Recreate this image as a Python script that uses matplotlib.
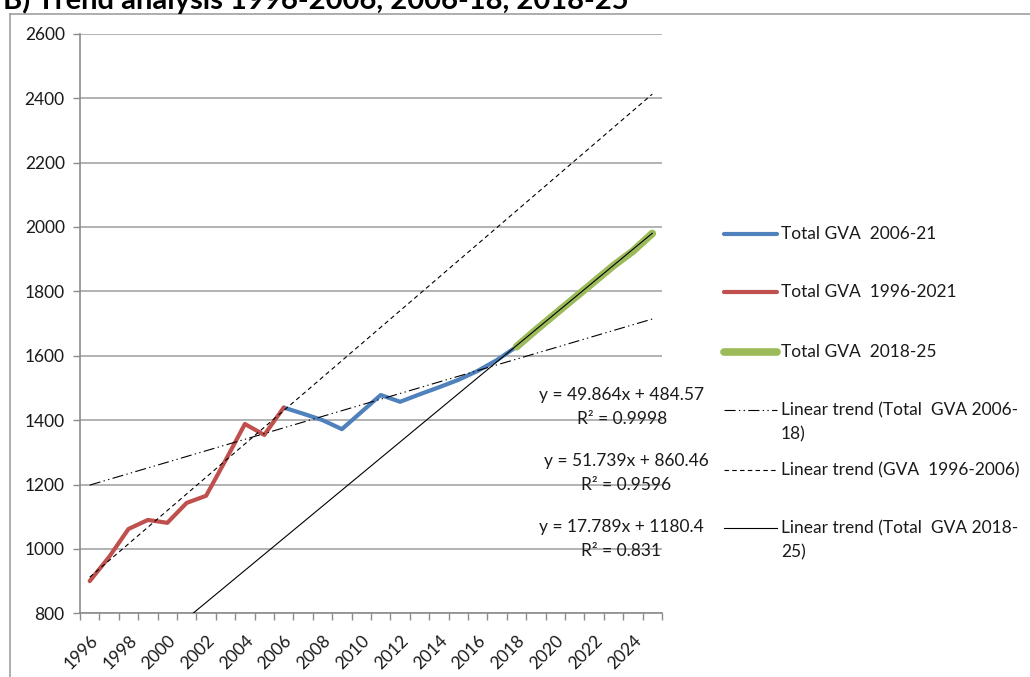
import matplotlib
matplotlib.use("Agg")
import matplotlib.pyplot as plt
from matplotlib.lines import Line2D
import numpy as np

plt.rcParams['font.family'] = ['Lato', 'DejaVu Sans']

# ---- data -------------------------------------------------------------
years = list(range(1996, 2026))

red_years = list(range(1996, 2007))
red_values = [900, 975, 1062, 1090, 1081, 1143, 1165, 1275, 1388, 1354, 1439]

blue_years = list(range(2006, 2019))
blue_values = [1439, 1420, 1400, 1372, 1425, 1478, 1457, 1480, 1502, 1525,
               1553, 1587, 1628]

green_years = list(range(2018, 2026))
green_values = [1628, 1680, 1730, 1780, 1830, 1880, 1925, 1980]

# linear trends (x = category index, 1 = 1996)
trend_2006_18 = (17.789, 1180.4)     # dash-dot
trend_1996_2006 = (51.739, 860.46)   # dashed
trend_2018_25 = (49.864, 484.57)     # solid

eq_labels = [("y = 49.864x + 484.57", "R² = 0.9998"),
             ("y = 51.739x + 860.46", "R² = 0.9596"),
             ("y = 17.789x + 1180.4", "R² = 0.831")]

y_ticks = list(range(800, 2601, 200))
title = "B) Trend analysis 1996-2006, 2006-18, 2018-25"

# ---- figure -----------------------------------------------------------
W, H = 1030, 677
fig = plt.figure(figsize=(W / 100, H / 100), dpi=100)


def fx(px):
    return px / W


def fy(py):
    return 1 - py / H


ax = fig.add_axes([fx(80), fy(613.3), fx(662) - fx(80), fy(33.8) - fy(613.3)])

idx = {yr: i + 1 for i, yr in enumerate(years)}
grid_c = '#a6a6a6'
axis_c = '#8c8c8c'
txt_c = '#1a1a1a'
fs = 12.5

ax.set_xlim(0.5, len(years) + 0.5)
ax.set_ylim(800, 2600)
ax.set_yticks(y_ticks)
ax.set_yticklabels([str(v) for v in y_ticks], fontsize=fs, color=txt_c)
ax.grid(axis='y', color=grid_c, linewidth=1.2, zorder=0)
ax.set_axisbelow(True)

label_years = [y for y in years if (y - 1996) % 2 == 0 and y < 2025]
ax.set_xticks([idx[y] for y in label_years])
ax.set_xticklabels([str(y) for y in label_years], rotation=45, ha='right',
                   rotation_mode='anchor', fontsize=fs, color=txt_c)
ax.set_xticks(np.arange(0.5, len(years) + 1.0, 1.0), minor=True)
ax.tick_params(axis='x', which='major', length=0, pad=14)
ax.tick_params(axis='x', which='minor', length=5, color=axis_c, width=1.0)
ax.tick_params(axis='y', length=5, color=axis_c, width=1.0, pad=6)

for s in ('top', 'right'):
    ax.spines[s].set_visible(False)
for s in ('left', 'bottom'):
    ax.spines[s].set_color(axis_c)
    ax.spines[s].set_linewidth(1.2)

# series
ax.plot([idx[y] for y in blue_years], blue_values, color='#4f81bd',
        linewidth=3.0, solid_capstyle='round', solid_joinstyle='round', zorder=3)
ax.plot([idx[y] for y in red_years], red_values, color='#c0504d',
        linewidth=3.0, solid_capstyle='round', solid_joinstyle='round', zorder=3)
ax.plot([idx[y] for y in green_years], green_values, color='#9bbb59',
        linewidth=5.5, solid_capstyle='round', solid_joinstyle='round', zorder=3)

# trend lines over the full category range
dashdot = (10, 3, 1.2, 3, 1.2, 3)
dashed = (4, 3)
xs = np.array([1, len(years)], dtype=float)
m, b = trend_2006_18
ax.plot(xs, m * xs + b, color='black', linewidth=0.8, dashes=dashdot, zorder=4)
m, b = trend_1996_2006
ax.plot(xs, m * xs + b, color='black', linewidth=0.8, dashes=dashed, zorder=4)
m, b = trend_2018_25
ax.plot(xs, m * xs + b, color='black', linewidth=0.8, zorder=4)

# trend equations
eq_pos = [(622, 395, 419), (626, 461, 485), (621, 527, 551)]
for (l1, l2), (px, py1, py2) in zip(eq_labels, eq_pos):
    fig.text(fx(px), fy(py1), l1, ha='center', va='center', fontsize=fs,
             color=txt_c)
    fig.text(fx(px), fy(py2), l2, ha='center', va='center', fontsize=fs,
             color=txt_c)

# legend
leg_items = [
    (234, dict(color='#4f81bd', linewidth=3.0, solid_capstyle='round'),
     ["Total GVA  2006-21"]),
    (292, dict(color='#c0504d', linewidth=3.0, solid_capstyle='round'),
     ["Total GVA  1996-2021"]),
    (352, dict(color='#9bbb59', linewidth=5.5, solid_capstyle='round'),
     ["Total GVA  2018-25"]),
    (410, dict(color='black', linewidth=0.8, dashes=dashdot),
     ["Linear trend (Total  GVA 2006-", "18)"]),
    (470, dict(color='black', linewidth=0.8, dashes=dashed),
     ["Linear trend (GVA  1996-2006)"]),
    (528, dict(color='black', linewidth=0.8),
     ["Linear trend (Total  GVA 2018-", "25)"]),
]
for py, style, lines in leg_items:
    fig.add_artist(Line2D([fx(724), fx(777)], [fy(py), fy(py)], **style))
    for k, line in enumerate(lines):
        fig.text(fx(781), fy(py + 24 * k), line, ha='left', va='center',
                 fontsize=fs, color=txt_c)

# outer frame (left and top edges)
frame_c = '#a0a0a0'
fig.add_artist(Line2D([fx(10), fx(10)], [fy(13.5), 0], color=frame_c, linewidth=1.2))
fig.add_artist(Line2D([fx(10), 1], [fy(13.5), fy(13.5)], color=frame_c, linewidth=1.2))

# title, partly above the top edge
fig.text(fx(3), fy(9.5), title, ha='left', va='baseline', fontsize=21,
         fontweight='bold', color='black')

fig.savefig('out.png', dpi=100, facecolor='white')
